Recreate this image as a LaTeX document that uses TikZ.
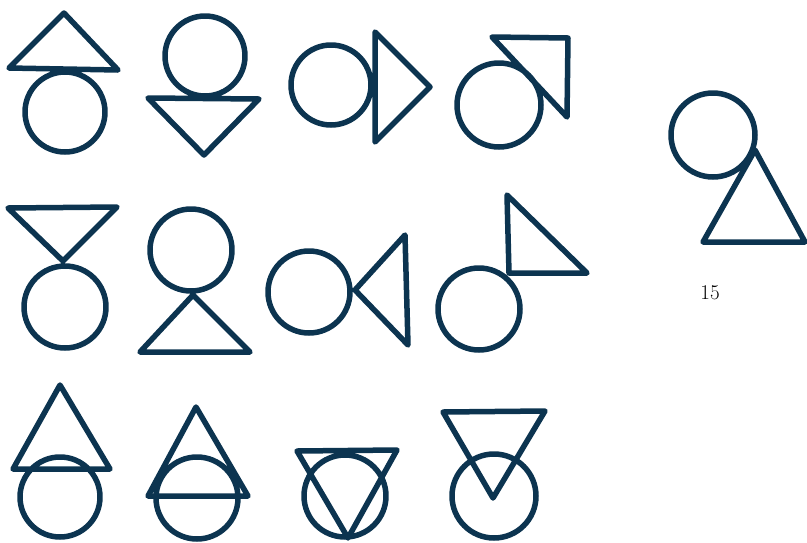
\documentclass[tikz,border=0pt]{standalone}
\usepackage{fontspec}
\usepackage{tikz}
\definecolor{ink}{HTML}{0C3450}
\begin{document}
\begin{tikzpicture}[x=1pt,y=-1pt,glyph/.style={draw=ink, line width=5.5pt, line join=round, line cap=round},lbl/.style={text=black, inner sep=0pt}]
\useasboundingbox (0,0) rectangle (807,542);
% row 1
\draw[glyph] (64,13) -- (9,68) -- (118,70) -- cycle (65,112) circle (40);
\draw[glyph] (205,56) circle (40) (148,98) -- (259,99) -- (204,155) -- cycle;
\draw[glyph] (331,85) circle (40) (375,32) -- (430,87) -- (375,142) -- cycle;
\draw[glyph] (499,105) circle (42) (492,37) -- (568,38) -- (567,117) -- cycle;
% row 2
\draw[glyph] (8,208) -- (117,207) -- (63,261) -- cycle (65,307) circle (41);
\draw[glyph] (191,250) circle (41) (193,295) -- (250,352) -- (140,352) -- cycle;
\draw[glyph] (309,292) circle (41) (355,290) -- (405,235) -- (408,345) -- cycle;
\draw[glyph] (479,309) circle (41) (507,195) -- (587,273) -- (509,273) -- cycle;
% row 3
\draw[glyph] (60,385) -- (110,469) -- (13,469) -- cycle (60,497) circle (40);
\draw[glyph] (196,407) -- (248,496) -- (148,496) -- cycle (197,498) circle (41);
\draw[glyph] (297,451) -- (397,450) -- (348,538) -- cycle (345,496) circle (41);
\draw[glyph] (443,412) -- (545,411) -- (493,498) -- cycle (494,496) circle (42);
% single one
\draw[glyph] (713,135) circle (42) (755,150) -- (805,242) -- (703,242) -- cycle;
\node[lbl] (num) at (710,293) {\fontsize{21}{25}\selectfont 15};
\end{tikzpicture}
\end{document}
